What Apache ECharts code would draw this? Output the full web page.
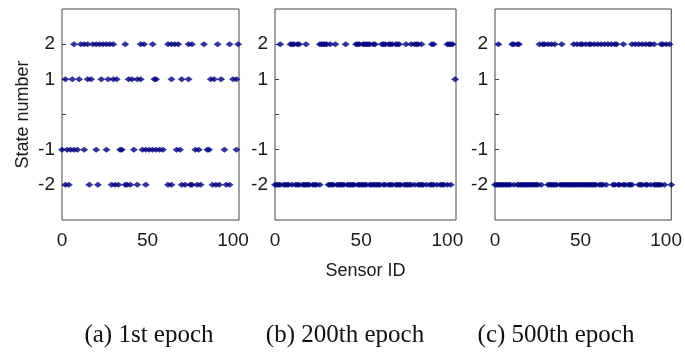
<!DOCTYPE html>
<html>
<head>
<meta charset="utf-8">
<script src="https://cdn.jsdelivr.net/npm/echarts@6/dist/echarts.min.js"></script>
<style>
  html, body { margin: 0; padding: 0; background: #fff; }
  #chart { width: 685px; height: 352px; }
</style>
</head>
<body>
<div id="chart"></div>
<script>
// sensor IDs per state
const epoch1_s2  = [7, 11, 13, 15, 18, 20, 22, 24, 26, 28, 30, 37, 46, 48, 53, 62, 64, 66, 68, 74, 76, 83, 91, 98, 103];
const epoch1_s1  = [2, 6, 10, 15, 17, 23, 27, 30, 32, 39, 41, 44, 46, 54, 55, 64, 70, 74, 87, 89, 93, 100, 102];
const epoch1_sm1 = [0, 3, 5, 7, 9, 13, 20, 26, 34, 35, 42, 47, 49, 51, 53, 55, 57, 59, 67, 69, 78, 80, 85, 86, 95, 102];
const epoch1_sm2 = [2, 4, 16, 21, 29, 31, 33, 37, 38, 40, 44, 49, 62, 64, 70, 72, 75, 76, 79, 81, 88, 90, 92, 96, 98];

const epoch200_s2  = [3, 9, 10, 11, 13, 14, 18, 26, 27, 28, 29, 30, 32, 35, 41, 47, 48, 49, 51, 52, 53, 54, 55, 57, 58,
                      62, 63, 64, 66, 67, 68, 70, 71, 72, 76, 79, 81, 82, 83, 85, 91, 92, 100, 101, 102, 103];
const epoch200_s1  = [104.5];
const epoch200_sm2 = [0, 1, 2, 3, 5, 6, 7, 8, 10, 12, 13, 14, 16, 17, 18, 19, 20, 22, 23, 24, 26,
                      31, 32, 33, 34, 36, 37, 38, 39, 40, 42, 43, 44, 45, 46, 48, 49, 50, 51, 52, 53, 55, 56, 57, 58, 59,
                      60, 61, 63, 64, 66, 67, 68, 70, 71, 72, 73, 75, 76, 77, 78, 79, 81,
                      83, 84, 85, 86, 88, 90, 91, 92, 94, 96, 97, 98, 100, 102];

const epoch500_s2  = [2, 10, 11, 13, 14, 26, 28, 29, 31, 33, 35, 39, 46, 48, 50, 51, 53, 55, 56, 58, 60, 62, 64, 66, 68,
                      70, 71, 75, 80, 82, 84, 86, 88, 90, 91, 93, 97, 98, 100, 102];
const epoch500_sm2 = [0, 1, 2, 3, 4, 5, 6, 7, 8, 9, 11, 13, 14, 15, 16, 17, 18, 19, 20, 21, 22, 23, 24, 25, 27,
                      31, 32, 33, 34, 35, 36, 38, 39, 40, 41, 42, 43, 44, 45, 46, 47, 48, 49, 50, 51, 52, 53, 54, 55, 56,
                      57, 58, 59, 61, 62, 63, 65, 69, 70, 72, 73, 75, 76, 78, 79, 80,
                      84, 85, 86, 88, 89, 91, 93, 94, 95, 96, 97, 99, 103];

const xTicks = [0, 50, 100];
const yTicks = [-2, -1, 1, 2];
const captions = ['(a) 1st epoch', '(b) 200th epoch', '(c) 500th epoch'];

const panels = [
  { left: 62,  width: 177, xMax: 103.5, rows: [[2, epoch1_s2], [1, epoch1_s1], [-1, epoch1_sm1], [-2, epoch1_sm2]] },
  { left: 275, width: 181, xMax: 105,   rows: [[2, epoch200_s2], [1, epoch200_s1], [-2, epoch200_sm2]] },
  { left: 495, width: 177, xMax: 103,   rows: [[2, epoch500_s2], [-2, epoch500_sm2]] }
];
const captionX = [144, 340, 551];

const myChart = echarts.init(document.getElementById('chart'), null, { renderer: 'canvas' });

const labelStyle = { fontFamily: 'Liberation Sans, Arial, sans-serif', fontSize: 19, color: '#1a1a1a' };
const nameStyle = { fontFamily: 'Liberation Sans, Arial, sans-serif', fontSize: 18, color: '#1a1a1a' };

const grid = panels.map(p => ({
  left: p.left, top: 9, width: p.width, height: 211,
  show: true, borderColor: '#444', borderWidth: 1, backgroundColor: '#fff'
}));

const xAxis = panels.map((p, i) => ({
  type: 'value', gridIndex: i, min: 0, max: p.xMax, interval: 50,
  axisLine: { show: false }, axisTick: { show: false }, splitLine: { show: false },
  axisLabel: Object.assign({}, labelStyle, {
    margin: 11,
    formatter: v => xTicks.includes(v) ? String(v) : ''
  }),
  name: i === 1 ? 'Sensor ID' : '',
  nameLocation: 'middle', nameGap: 42,
  nameTextStyle: nameStyle
}));

const yAxis = panels.map((p, i) => ({
  type: 'value', gridIndex: i, min: -3, max: 3, interval: 1,
  axisLine: { show: false },
  axisTick: { show: true, inside: true, length: 4, lineStyle: { color: '#444' },
              customValues: [-2, -1, 0, 1, 2] },
  splitLine: { show: false },
  axisLabel: Object.assign({}, labelStyle, {
    margin: 7,
    formatter: v => yTicks.includes(v) ? String(v) : ''
  }),
  name: i === 0 ? 'State number' : '',
  nameLocation: 'middle', nameGap: 30, nameRotate: 90,
  nameTextStyle: nameStyle
}));

const series = [];
panels.forEach((p, i) => {
  p.rows.forEach(([state, ids]) => {
    series.push({
      type: 'scatter', xAxisIndex: i, yAxisIndex: i,
      symbol: 'diamond', symbolSize: [8, 6],
      itemStyle: { color: '#000080' },
      clip: false,
      data: ids.map(id => [id, state])
    });
  });
});

const option = {
  animation: false,
  backgroundColor: '#fff',
  title: captions.map((t, i) => ({
    text: t, left: captionX[i], top: 318, textAlign: 'center',
    textStyle: { fontFamily: 'Liberation Serif, Times New Roman, serif', fontSize: 25, fontWeight: 'normal', color: '#111' }
  })),
  grid: grid,
  xAxis: xAxis,
  yAxis: yAxis,
  series: series
};
myChart.setOption(option);
</script>
</body>
</html>
